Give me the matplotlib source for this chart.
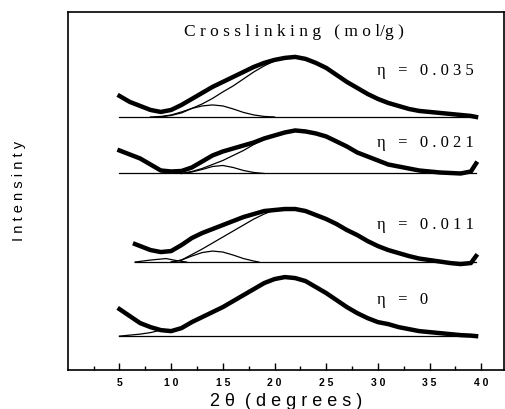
import matplotlib
matplotlib.use("Agg")
import matplotlib.pyplot as plt
import numpy as np

# 2-theta grids (degrees)
tt_full = [5, 6, 7, 8, 9, 10, 11, 12, 13, 14, 15, 16, 17, 18, 19, 20, 21, 22,
           23, 24, 25, 26, 27, 28, 29, 30, 31, 32, 33, 34, 35, 36, 37, 38, 39, 39.5]
tt_011 = [6.5, 7, 8, 9, 10, 11, 12, 13, 14, 15, 16, 17, 18, 19, 20, 21, 22,
          23, 24, 25, 26, 27, 28, 29, 30, 31, 32, 33, 34, 35, 36, 37, 38, 39, 39.5]

# measured intensity above each baseline (arb. units)
i_035 = [21, 15, 11, 7, 5, 7, 12, 18, 24, 30, 35, 40, 45, 50, 54, 57, 59, 60,
         58, 54, 49, 42, 35, 29, 23, 18, 14, 11, 8, 6, 5, 4, 3, 2, 1, 0]
i_021 = [23, 19, 15, 9, 3, 2, 2.5, 6, 12, 18, 22, 25, 28, 31, 35, 38, 41, 43,
         42, 40, 37, 32, 27, 21, 17, 13, 9, 7, 5, 3, 2, 1, 0.5, 0, 2, 10]
i_011 = [18, 16, 12, 10, 11, 17, 24, 29, 33, 37, 41, 45, 48, 51, 52, 53, 53,
         51, 47, 43, 38, 32, 27, 21, 16, 12, 9, 6, 3.5, 2, 0.5, -1, -2, -1, 6]
i_000 = [27, 20, 13, 9, 6, 5, 8, 14, 19, 24, 29, 35, 41, 47, 53, 57, 59, 58,
         55, 49, 43, 36, 29, 23, 18, 14, 12, 9, 7, 5, 4, 3, 2, 1, 0.5, 0]

# fitted amorphous halo (visible part, before it merges with the data)
halo_tt_035 = [9, 10, 11, 12, 13, 14, 15, 16, 17, 18, 19, 20]
halo_035 = [0, 1.5, 4, 8.5, 13, 18.5, 25, 31, 38, 45, 51, 56]
halo_tt_021 = [11, 12, 13, 14, 15, 16, 17, 18, 19, 20]
halo_021 = [0, 2, 5, 9, 13, 18, 23, 29, 34, 38]
halo_tt_011 = [10, 11, 12, 13, 14, 15, 16, 17, 18, 19, 20]
halo_011 = [0, 2, 7.5, 13, 19, 25, 31, 37, 43, 48, 52]
halo_tt_000 = [5, 6, 7, 8, 9]
halo_000 = [0, 1, 2, 3.5, 6]

# fitted crystalline peak near 14 deg
pk_tt_035 = [8, 9, 10, 11, 12, 13, 14, 15, 16, 17, 18, 19, 20]
pk_035 = [0, 0.5, 2, 5, 8.5, 11, 12, 11, 8, 4.5, 2, 0.5, 0]
pk_tt_021 = [11, 12, 13, 14, 15, 16, 17, 18, 19]
pk_021 = [0, 1.5, 4, 7, 8, 6, 3, 1, 0]
pk_tt_011 = [10, 11, 12, 13, 14, 15, 16, 17, 18, 18.5]
pk_011 = [0, 2, 6, 9.5, 11, 10, 7, 3.5, 1, 0]
# small low-angle component (eta = 0.011)
lo_tt_011 = [6.5, 8, 9.5, 10.5, 11.5]
lo_011 = [0, 2, 3.5, 1.5, 0]

labels = ["\u03b7   =   0 . 0 3 5", "\u03b7   =   0 . 0 2 1",
          "\u03b7   =   0 . 0 1 1", "\u03b7   =   0"]
offsets = [253, 196.5, 108, 34]
label_y = [299, 227, 145, 70]

series = [
    (tt_full, i_035, halo_tt_035, halo_035, [(pk_tt_035, pk_035)], 5),
    (tt_full, i_021, halo_tt_021, halo_021, [(pk_tt_021, pk_021)], 5),
    (tt_011, i_011, halo_tt_011, halo_011, [(pk_tt_011, pk_011), (lo_tt_011, lo_011)], 6.5),
    (tt_full, i_000, halo_tt_000, halo_000, [], 5),
]

fig = plt.figure(figsize=(5.06, 4.09), dpi=100)
ax = fig.add_axes([0.134, 0.095, 0.862, 0.876])

for (tt, ii, htt, hh, peaks, x0), off, lab, ly in zip(series, offsets, labels, label_y):
    ax.plot([x0, 39.5], [off, off], color="black", lw=0.9)
    ax.plot(htt, np.array(hh) + off, color="black", lw=0.9)
    for ptt, pp in peaks:
        ax.plot(ptt, np.array(pp) + off, color="black", lw=0.9)
    ax.plot(tt, np.array(ii) + off, color="black", lw=3.2)
    ax.text(29.9, ly, lab, fontsize=12, family="Liberation Serif", va="center")

ax.text(21.9, 338, "C r o s s l i n k i n g   ( m o l/g )", fontsize=12.5,
        family="Liberation Serif", ha="center", va="center")

ax.set_xlim(0, 42.2)
ax.set_ylim(0, 358)
major = [5, 10, 15, 20, 25, 30, 35, 40]
ax.set_xticks(major)
ax.set_xticklabels([" ".join(str(v)) for v in major], fontsize=7.5,
                   family="Liberation Sans", fontweight="bold")
ax.set_xticks([2.5, 7.5, 12.5, 17.5, 22.5, 27.5, 32.5, 37.5], minor=True)
ax.tick_params(axis="x", which="major", direction="in", length=5, width=1, pad=6)
ax.tick_params(axis="x", which="minor", direction="in", length=3, width=1)
ax.set_yticks([])
for s in ax.spines.values():
    s.set_linewidth(1.2)

ax.set_xlabel("2 \u03b8  ( d e g r e e s )", fontsize=13, family="Liberation Sans", labelpad=3)
ax.set_ylabel("I n t e n s i n t y", fontsize=10.5, family="Liberation Sans", labelpad=30)

fig.savefig("out.png", dpi=100)
